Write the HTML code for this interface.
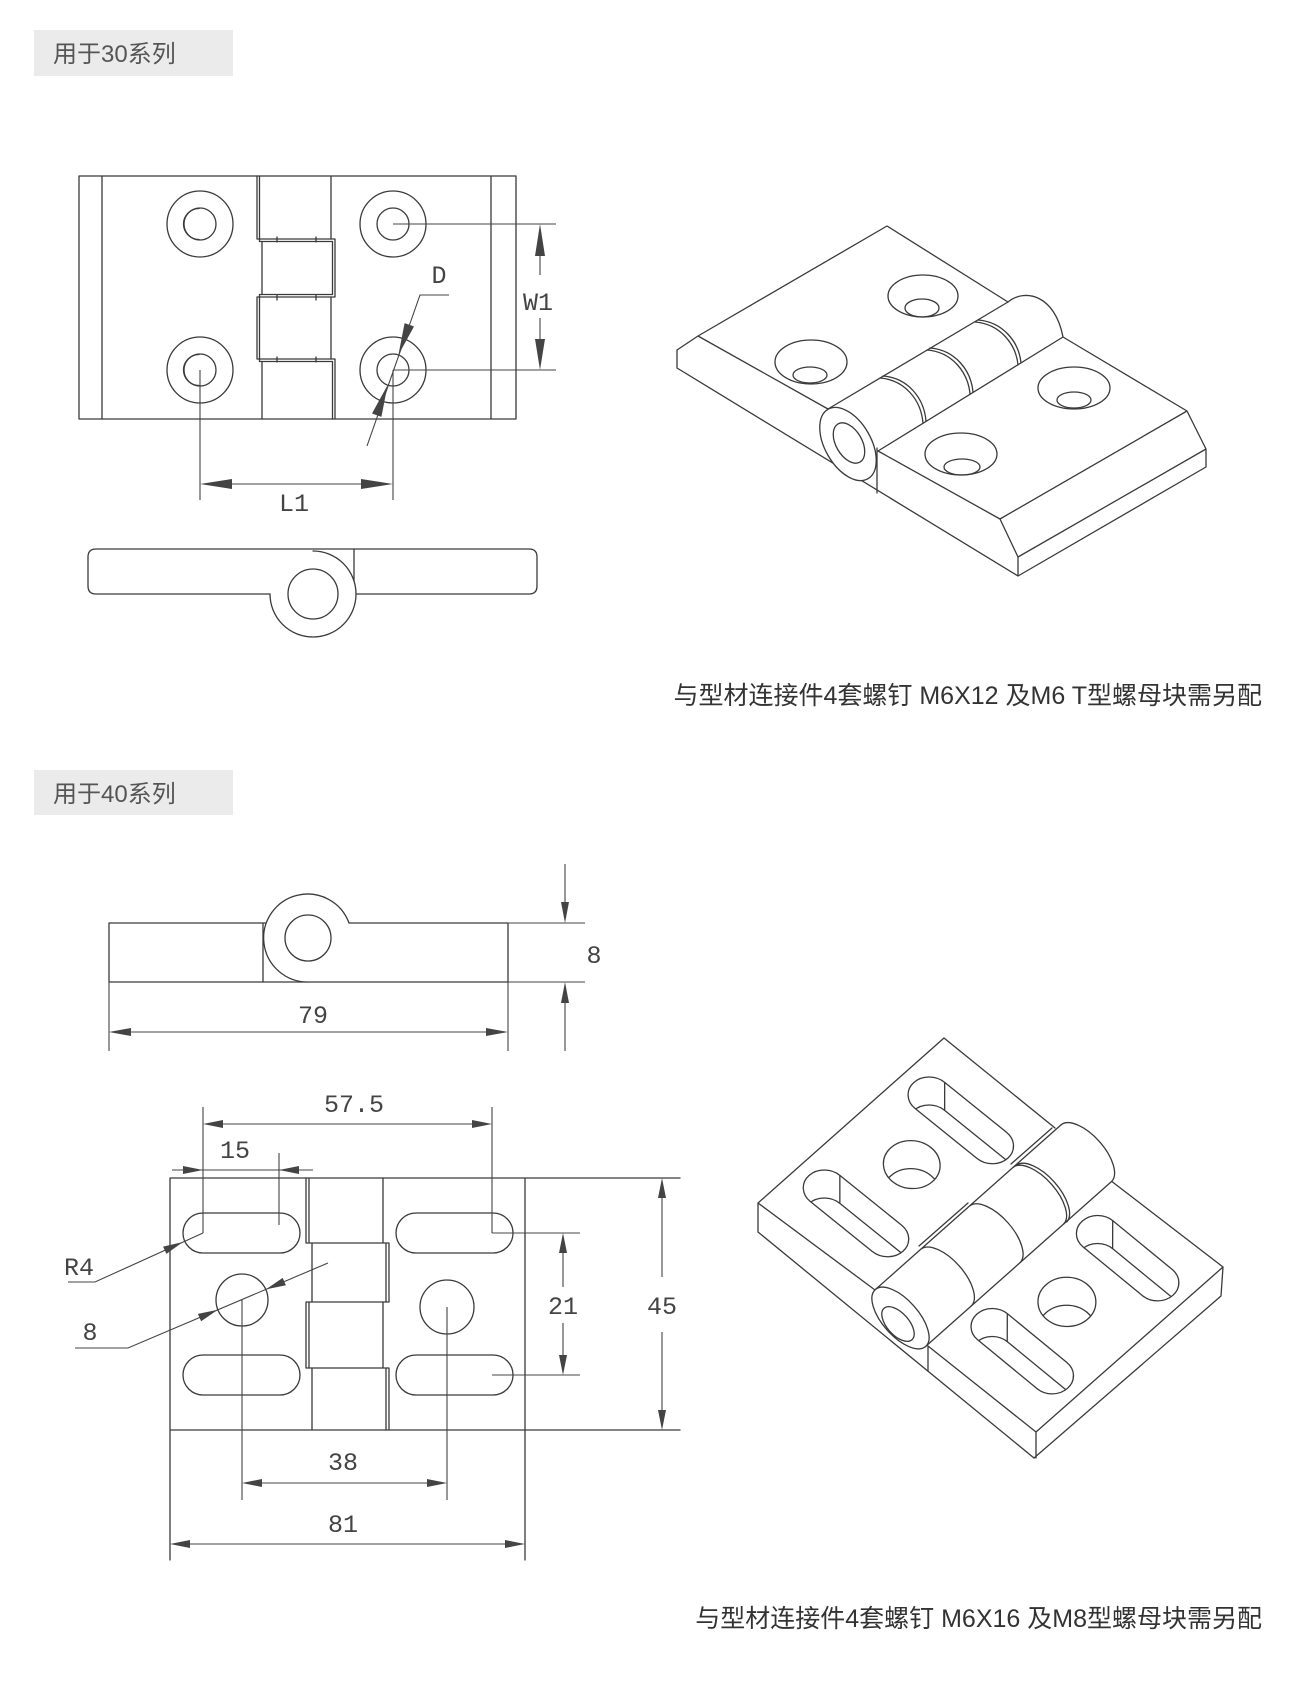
<!DOCTYPE html>
<html><head><meta charset="utf-8">
<style>
html,body{margin:0;padding:0;background:#fff;}
svg{display:block;}
.l{stroke:#3a3a3a;stroke-width:1.3;fill:none;stroke-linecap:round;stroke-linejoin:round;vector-effect:non-scaling-stroke}
.w{fill:#fff}
.d{stroke:#444;stroke-width:1.1;fill:none}
.a{fill:#444;stroke:none}
.t{font-family:"Liberation Mono",monospace;font-size:25px;fill:#444;text-anchor:middle}
.lab{font-family:"Liberation Sans","Noto Sans CJK SC",sans-serif;font-size:24px;fill:#555}
.note{font-family:"Liberation Sans","Noto Sans CJK SC",sans-serif;font-size:25px;fill:#333;text-anchor:end}
</style></head><body>
<svg width="1300" height="1684" viewBox="0 0 1300 1684" xmlns="http://www.w3.org/2000/svg">
<defs>
<clipPath id="cs1"><path d="M203,1213 H280 A20,20 0 0 1 280,1253 H203 A20,20 0 0 1 203,1213 Z"/></clipPath>
<clipPath id="cs2"><path d="M203,1355 H280 A20,20 0 0 1 280,1395 H203 A20,20 0 0 1 203,1355 Z"/></clipPath>
<clipPath id="cc1"><circle cx="242" cy="1300" r="26"/></clipPath>
<clipPath id="cs3"><path d="M416,1213 H493 A20,20 0 0 1 493,1253 H416 A20,20 0 0 1 416,1213 Z"/></clipPath>
<clipPath id="cs4"><path d="M416,1355 H493 A20,20 0 0 1 493,1395 H416 A20,20 0 0 1 416,1355 Z"/></clipPath>
<clipPath id="cc2"><circle cx="447" cy="1307" r="27"/></clipPath>
</defs>
<rect width="1300" height="1684" fill="#fff"/>

<!-- Labels -->
<rect x="34" y="30" width="199" height="46" fill="#ebebeb"/>
<text class="lab" x="53" y="62">用于30系列</text>
<rect x="34" y="770" width="199" height="45" fill="#ebebeb"/>
<text class="lab" x="53" y="802">用于40系列</text>

<!-- ===== 30 series top view ===== -->
<rect class="l" x="79" y="176" width="437" height="243"/>
<path class="l" d="M102,176V419 M491,176V419"/>
<path class="l" d="M257,176 V239 H335 V297 H257 V359 H335 V419"/>
<path class="l" d="M259.5,176 V241.5 H332.5 V294.5 H259.5 V361.5 H332.5 V419"/>
<path class="l" d="M262,241.5 V294.5 M262,361.5 V419 M331,176 V239 M331,297 V359"/>
<path class="l" d="M277,237V242 M316,237V242 M277,295V300 M316,295V300 M277,357V362 M316,357V362"/>
<circle class="l" cx="200" cy="224" r="33"/><circle class="l" cx="200" cy="224" r="16"/>
<path class="l" d="M199,208.5 A15.5,15.5 0 0 0 199,239.5"/>
<circle class="l" cx="200" cy="370" r="33"/><circle class="l" cx="200" cy="370" r="16"/>
<path class="l" d="M199,354.5 A15.5,15.5 0 0 0 199,385.5"/>
<circle class="l" cx="393" cy="224" r="33"/><circle class="l" cx="393" cy="224" r="16"/>
<circle class="l" cx="393" cy="370" r="33"/><circle class="l" cx="393" cy="370" r="16"/>
<!-- dims 30 -->
<path class="d" d="M393,224 H556 M393,370 H556 M540,256 V275 M540,318 V339"/>
<polygon class="a" points="540,224 535,256 545,256"/>
<polygon class="a" points="540,370 535,339 545,339"/>
<text class="t" x="538" y="310">W1</text>
<path class="d" d="M200,370 V500 M393,370 V500 M232,484 H361"/>
<polygon class="a" points="200,484 232,479 232,489"/>
<polygon class="a" points="393,484 361,479 361,489"/>
<text class="t" x="294" y="511">L1</text>
<path class="d" d="M449,295 H420 L367,446"/>
<polygon class="a" points="398.4,354.9 414,326.5 404.6,323.1"/>
<polygon class="a" points="387.6,385.1 381.4,416.9 372,413.5"/>
<text class="t" x="439" y="283">D</text>

<!-- 30 side profile -->
<path class="l" d="M271,594 H96 Q88,594 88,586 V557 Q88,549 96,549 H529 Q537,549 537,557 V586 Q537,594 529,594 H354"/>
<path class="l" d="M354,549 V594"/>
<path class="l w" d="M270,594 A43,43 0 1 0 313,551"/>
<circle class="l" cx="313" cy="594" r="25"/>

<!-- 30 isometric -->
<path class="l" d="M677,350 L698,336 L887,226 L1008,302 M698,336 L828,409 M677,350 V368 L1018,576 V557 L1000,519 L878,451 M877,448 V493 M1000,519 L1187,411 L1063,337 M1187,411 L1206,449 V467 L1018,576 M1018,557 L1206,449"/>
<path class="l" d="M828,409 L1008,302 M1008,302 C1025,288 1055,295 1063,337 M878,451 L1063,337"/>
<path class="l" d="M880,378 C905,380 921,400 923,423 M883,376 C908,378 924,398 926,421 M927,350 C952,352 968,372 970,394 M930,348 C955,350 971,370 973,392 M975,322 C1000,324 1016,344 1018,365 M978,320 C1003,322 1019,342 1021,363"/>
<ellipse class="l w" cx="848" cy="444" rx="40" ry="23" transform="rotate(60 848 444)"/>
<ellipse class="l" cx="849" cy="443" rx="22" ry="13" transform="rotate(60 849 443)"/>
<ellipse class="l" cx="923" cy="296" rx="35" ry="21"/><ellipse class="l" cx="922" cy="308" rx="17" ry="9"/>
<ellipse class="l" cx="811" cy="362" rx="36" ry="22"/><ellipse class="l" cx="810" cy="375" rx="17" ry="8"/>
<ellipse class="l" cx="1074" cy="388" rx="36" ry="21"/><ellipse class="l" cx="1074" cy="400" rx="17" ry="8"/>
<ellipse class="l" cx="961" cy="454" rx="36" ry="21"/><ellipse class="l" cx="962" cy="467" rx="18" ry="8"/>

<text class="note" x="1262" y="704">与型材连接件4套螺钉 M6X12 及M6 T型螺母块需另配</text>

<!-- ===== 40 series side view ===== -->
<path class="l" d="M109,982 V923 H267 M349,923 H508 V982 H109 M263,923 V982"/>
<path class="l w" d="M349,923 A44,44 0 1 0 308,982"/>
<circle class="l" cx="308" cy="938" r="23"/>
<path class="d" d="M109,982 V1051 M508,982 V1051 M131,1032 H486 M508,923 H585 M508,982 H585 M565,864 V902 M565,1003 V1051"/>
<polygon class="a" points="109,1032 131,1028 131,1036"/>
<polygon class="a" points="508,1032 486,1028 486,1036"/>
<polygon class="a" points="565,923 561,902 569,902"/>
<polygon class="a" points="565,982 561,1003 569,1003"/>
<text class="t" x="313" y="1023">79</text>
<text class="t" x="594" y="963">8</text>

<!-- 40 top view -->
<path class="l" d="M170,1178 H680 M170,1430 H680 M170,1178 V1560 M525,1178 V1560"/>
<path class="l" d="M312,1243 V1302 M312,1368 V1430 M306,1178 V1243 M309,1178 V1243 M306,1302 V1368 M309,1302 V1368 M383,1178 V1243 M383,1302 V1368 M386,1243 V1302 M389,1243 V1302 M386,1368 V1430 M389,1368 V1430 M306,1243 H389 M306,1302 H389 M306,1368 H389"/>
<path class="l" d="M203,1213 H280 A20,20 0 0 1 280,1253 H203 A20,20 0 0 1 203,1213 Z"/>
<path class="l" d="M203,1355 H280 A20,20 0 0 1 280,1395 H203 A20,20 0 0 1 203,1355 Z"/>
<path class="l" d="M416,1213 H493 A20,20 0 0 1 493,1253 H416 A20,20 0 0 1 416,1213 Z"/>
<path class="l" d="M416,1355 H493 A20,20 0 0 1 493,1395 H416 A20,20 0 0 1 416,1355 Z"/>
<circle class="l" cx="242" cy="1300" r="26"/>
<circle class="l" cx="447" cy="1307" r="27"/>
<!-- dims 40 -->
<path class="d" d="M203,1107 V1233 M492,1107 V1233 M223,1124 H472"/>
<polygon class="a" points="203,1124 223,1120 223,1128"/>
<polygon class="a" points="492,1124 472,1120 472,1128"/>
<text class="t" x="354" y="1112">57.5</text>
<path class="d" d="M172,1170 H313 M279,1153 V1225"/>
<polygon class="a" points="203,1170 183,1166 183,1174"/>
<polygon class="a" points="279,1170 299,1166 299,1174"/>
<text class="t" x="235" y="1158">15</text>
<path class="d" d="M68,1282 H95 L203,1233"/>
<polygon class="a" points="183,1242 166.4,1253.9 163.1,1246.6"/>
<text class="t" x="79" y="1275">R4</text>
<path class="d" d="M75,1348 H128 L328,1263"/>
<polygon class="a" points="217.9,1309.8 201.1,1321.3 197.9,1313.9"/>
<polygon class="a" points="265.9,1289.4 285.9,1285.3 282.7,1277.9"/>
<text class="t" x="90" y="1340">8</text>
<path class="d" d="M242,1300 V1500 M447,1307 V1500 M262,1483 H427 M190,1544 H505"/>
<polygon class="a" points="242,1483 262,1479 262,1487"/>
<polygon class="a" points="447,1483 427,1479 427,1487"/>
<polygon class="a" points="170,1544 190,1540 190,1548"/>
<polygon class="a" points="525,1544 505,1540 505,1548"/>
<text class="t" x="343" y="1470">38</text>
<text class="t" x="343" y="1532">81</text>
<path class="d" d="M492,1233 H580 M492,1375 H580 M563,1253 V1287 M563,1323 V1355 M662,1198 V1277 M662,1332 V1410"/>
<polygon class="a" points="563,1233 559,1253 567,1253"/>
<polygon class="a" points="563,1375 559,1355 567,1355"/>
<polygon class="a" points="662,1178 658,1198 666,1198"/>
<polygon class="a" points="662,1430 658,1410 666,1410"/>
<text class="t" x="563" y="1314">21</text>
<text class="t" x="662" y="1314">45</text>

<!-- 40 isometric -->
<path class="l" d="M944,1038 L758,1203 V1232 L1034,1458 M758,1203 L875,1290 M944,1038 L1055,1128"/>
<path class="l" d="M875.3,1289.6 L1061.3,1124.6 M919,1246 L968,1203 M1011,1164 L1052,1128"/>
<path class="l" d="M1111.7,1181.4 L925.7,1346.4 M1111.7,1181.4 L1223,1267 L1036,1432 L928,1346 V1371 M1223,1267 L1221,1296 L1034,1458 M1036,1432 V1458"/>
<path class="l" d="M921.1,1249 A38,18 48.4 0 1 971.5,1305.8 M969.8,1205.8 A38,18 48.4 0 1 1020.2,1262.6 M1013.3,1167.2 A38,18 48.4 0 1 1063.7,1224 M1016.3,1165.2 A38,18 48.4 0 1 1066.7,1222 M1061.3,1124.6 A38,18 48.4 0 1 1111.7,1181.4"/>
<ellipse class="l w" cx="900.5" cy="1318" rx="38" ry="18" transform="rotate(48.4 900.5 1318)"/>
<ellipse class="l" cx="898" cy="1324" rx="21" ry="11" transform="rotate(48.4 898 1324)"/>
<g transform="matrix(0.8028,0.6479,-0.7381,0.6548,1677,156.55)">
<path class="l" d="M203,1213 H280 A20,20 0 0 1 280,1253 H203 A20,20 0 0 1 203,1213 Z"/>
<path class="l" d="M203,1355 H280 A20,20 0 0 1 280,1395 H203 A20,20 0 0 1 203,1355 Z"/>
<circle class="l" cx="242" cy="1300" r="26"/>
<g clip-path="url(#cs1)"><path class="l" transform="translate(20.6,22.4)" d="M203,1213 H280 A20,20 0 0 1 280,1253 H203 A20,20 0 0 1 203,1213 Z"/><path class="l" d="M203,1213 l20.6,22.4 M294.7,1219.5 l20.6,22.4"/></g>
<g clip-path="url(#cs2)"><path class="l" transform="translate(20.6,22.4)" d="M203,1355 H280 A20,20 0 0 1 280,1395 H203 A20,20 0 0 1 203,1355 Z"/><path class="l" d="M203,1355 l20.6,22.4 M294.7,1361.5 l20.6,22.4"/></g>
<g clip-path="url(#cc1)"><circle class="l" cx="242" cy="1300" r="26" transform="translate(20.6,22.4)"/></g>
</g>
<g transform="matrix(0.7737,0.6350,-0.7421,0.6548,1691,162.2)">
<path class="l" d="M416,1213 H493 A20,20 0 0 1 493,1253 H416 A20,20 0 0 1 416,1213 Z"/>
<path class="l" d="M416,1355 H493 A20,20 0 0 1 493,1395 H416 A20,20 0 0 1 416,1355 Z"/>
<circle class="l" cx="447" cy="1307" r="27"/>
<g clip-path="url(#cs3)"><path class="l" transform="translate(21.2,22.2)" d="M416,1213 H493 A20,20 0 0 1 493,1253 H416 A20,20 0 0 1 416,1213 Z"/><path class="l" d="M416,1213 l21.2,22.2 M507.4,1219.2 l21.2,22.2"/></g>
<g clip-path="url(#cs4)"><path class="l" transform="translate(21.2,22.2)" d="M416,1355 H493 A20,20 0 0 1 493,1395 H416 A20,20 0 0 1 416,1355 Z"/><path class="l" d="M416,1355 l21.2,22.2 M507.4,1361.2 l21.2,22.2"/></g>
<g clip-path="url(#cc2)"><circle class="l" cx="447" cy="1307" r="27" transform="translate(21.2,22.2)"/></g>
</g>

<text class="note" x="1262" y="1627">与型材连接件4套螺钉 M6X16 及M8型螺母块需另配</text>
</svg>
</body></html>
